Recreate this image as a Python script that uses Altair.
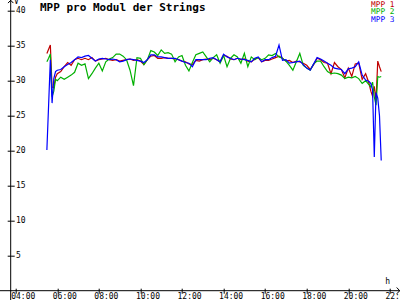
import altair as alt
import pandas as pd

# ---- data ----
times = [
    "05:30", "05:35", "05:40", "05:45", "05:50", "05:55", "06:00",
    "06:10", "06:20", "06:30", "06:40", "06:50", "07:00", "07:10", "07:20", "07:30", "07:40", "07:50",
    "08:00", "08:10", "08:20", "08:30", "08:40", "08:50", "09:00", "09:10", "09:20", "09:30", "09:40", "09:50",
    "10:00", "10:10", "10:20", "10:30", "10:40", "10:50", "11:00", "11:10", "11:20", "11:30", "11:40", "11:50",
    "12:00", "12:10", "12:20", "12:30", "12:40", "12:50", "13:00", "13:10", "13:20", "13:30", "13:40", "13:50",
    "14:00", "14:10", "14:20", "14:30", "14:40", "14:50", "15:00", "15:10", "15:20", "15:30", "15:40", "15:50",
    "16:00", "16:10", "16:20", "16:30", "16:40", "16:50", "17:00", "17:10", "17:20", "17:30", "17:40", "17:50",
    "18:00", "18:10", "18:20", "18:30", "18:40", "18:50", "19:00", "19:10", "19:20", "19:30", "19:40", "19:50",
    "20:00", "20:10", "20:20", "20:30", "20:40", "20:50", "21:00",
    "21:05", "21:10", "21:15", "21:20", "21:25", "21:30", "21:35",
]

mpp1 = [
    33.9, 34.5, 35.1, 29.1, 29.0, 30.5, 31.0,
    31.3, 32.0, 32.6, 32.2, 33.0, 33.2, 33.0, 33.2, 33.0, 33.3, 32.8,
    33.0, 33.1, 33.2, 33.0, 32.9, 33.0, 32.8, 32.9, 33.0, 33.1, 32.9, 33.0,
    32.8, 32.3, 33.0, 33.5, 33.6, 33.2, 33.2, 33.3, 33.2, 33.2, 33.1, 33.0,
    32.8, 32.7, 32.4, 32.3, 32.9, 32.8, 33.0, 33.1, 33.0, 33.2, 33.0, 32.7,
    33.6, 33.5, 33.1, 33.0, 33.2, 33.0, 33.1, 32.8, 32.7, 33.1, 33.3, 32.7,
    32.9, 32.9, 33.1, 33.3, 33.5, 33.2, 32.8, 32.9, 32.6, 32.8, 32.7, 32.5,
    32.2, 31.6, 32.3, 33.2, 33.0, 32.6, 32.5, 31.0, 32.6, 32.0, 31.6, 30.4,
    31.8, 30.6, 32.4, 32.5, 30.2, 31.0, 29.6,
    28.5, 27.8, 29.2, 27.2, 32.8, 32.0, 31.3,
]

mpp2 = [
    32.7, 33.2, 33.8, 27.7, 28.5, 30.2, 30.0,
    30.5, 30.2, 30.5, 30.8, 31.2, 32.5, 32.2, 32.4, 30.3, 31.0, 31.8,
    32.5, 31.4, 32.7, 33.1, 33.3, 33.8, 33.8, 33.5, 33.0, 31.5, 29.3, 33.3,
    33.2, 32.3, 33.0, 34.3, 34.1, 33.6, 34.4, 33.9, 34.0, 33.8, 32.7, 33.4,
    33.6, 32.2, 31.4, 32.6, 33.7, 33.9, 34.1, 33.4, 32.7, 33.3, 33.7, 32.5,
    33.6, 32.0, 33.2, 33.7, 33.4, 32.5, 33.9, 32.0, 33.4, 33.0, 33.3, 33.0,
    33.2, 33.7, 33.6, 33.9, 33.4, 33.2, 32.8, 32.2, 31.5, 32.7, 33.9, 32.2,
    31.8, 31.5, 32.4, 32.8, 32.8, 32.0, 31.3, 31.0, 31.1, 31.0, 30.8, 30.3,
    30.5, 30.4, 30.6, 30.3, 29.6, 30.0, 29.4,
    29.1, 29.8, 27.7, 26.5, 30.6, 30.5, 30.6,
]

mpp3 = [
    20.1, 26.5, 33.0, 26.8, 30.3, 31.3, 31.5,
    31.6, 32.0, 32.3, 32.6, 33.0, 33.4, 33.3, 33.5, 33.6, 33.2, 32.8,
    33.1, 33.2, 33.1, 33.0, 33.1, 33.0, 32.7, 32.8, 33.0, 33.1, 33.0, 32.9,
    32.8, 32.6, 33.0, 33.7, 33.7, 33.4, 33.4, 33.3, 33.2, 33.2, 33.2, 33.0,
    32.8, 32.6, 32.5, 32.0, 33.0, 33.0, 33.0, 33.0, 33.2, 33.3, 33.0, 32.7,
    33.8, 33.4, 33.2, 33.0, 33.2, 33.1, 33.0, 32.9, 32.7, 33.2, 33.4, 32.7,
    33.0, 33.0, 33.3, 33.5, 35.1, 32.9, 33.0, 32.5, 32.6, 32.7, 32.8, 32.3,
    31.8, 31.5, 32.4, 33.3, 33.1, 32.8, 32.5, 32.2, 31.8, 31.7, 31.6, 31.0,
    31.7, 31.8, 32.0, 32.7, 30.8, 30.1, 29.9,
    29.6, 28.7, 19.1, 28.3, 27.5, 25.0, 18.6,
]

series_names = ["MPP 1", "MPP 2", "MPP 3"]
series_colors = ["#c00000", "#00b000", "#0000ff"]
y_ticks = [5, 10, 15, 20, 25, 30, 35, 40]
x_ticks = [4, 6, 8, 10, 12, 14, 16, 18, 20, 22]
chart_title = "MPP pro Modul der Strings"
y_unit = "V"
x_unit = "h"


def to_hours(s):
    h, m = s.split(":")
    return int(h) + int(m) / 60.0


rows = []
for name, vals in zip(series_names, [mpp1, mpp2, mpp3]):
    for t, v in zip(times, vals):
        rows.append({"hour": to_hours(t), "volt": v, "series": name})
df = pd.DataFrame(rows)
legend_df = pd.DataFrame({"series": series_names})

# ---- layout ----
W, H = 387.5, 280
FONT = "DejaVu Sans Mono"
xscale = alt.Scale(domain=[3.76, 22.4], nice=False, zero=False)
yscale = alt.Scale(domain=[0, 40], nice=False, zero=False)
color = alt.Color("series:N",
                  scale=alt.Scale(domain=series_names, range=series_colors),
                  legend=None)

lines = alt.Chart(df).mark_line(strokeWidth=1.2).encode(
    x=alt.X("hour:Q", scale=xscale, axis=alt.Axis(
        orient="bottom", values=x_ticks,
        labelExpr="(datum.value < 10 ? '0' : '') + datum.value + ':00'",
        domain=False, grid=False, ticks=True, tickSize=2.5, tickColor="black",
        labelFont=FONT, labelFontSize=8, labelColor="black",
        labelAlign="left", labelOffset=-5, labelBaseline="alphabetic",
        labelPadding=5.5, labelFlush=False, labelOverlap=False,
        title=None)),
    y=alt.Y("volt:Q", scale=yscale, axis=alt.Axis(
        orient="right", offset=-W, values=y_ticks,
        domain=False, grid=False, ticks=True, tickSize=3.5, tickColor="black",
        labelFont=FONT, labelFontSize=8, labelColor="black",
        labelAlign="left", labelBaseline="middle", labelPadding=1.2,
        labelFlush=False, labelOverlap=False,
        title=None)),
    color=color,
)

# invisible layer that carries the other half of each crossing tick
ticks_other = alt.Chart(df).mark_line(opacity=0).encode(
    x=alt.X("hour:Q", scale=xscale, axis=alt.Axis(
        orient="top", offset=-H, values=x_ticks, labels=False, domain=False,
        grid=False, tickSize=2.5, tickColor="black", title=None)),
    y=alt.Y("volt:Q", scale=yscale, axis=alt.Axis(
        orient="left", values=y_ticks, labels=False, domain=False,
        grid=False, tickSize=3.5, tickColor="black", title=None)),
    detail="series:N",
)

legend_text = alt.Chart(legend_df).mark_text(
    align="right", baseline="alphabetic", font=FONT, fontSize=7.8
).encode(
    x=alt.value(383.8),
    y=alt.Y("series:N", axis=None,
            scale=alt.Scale(type="point", domain=series_names, range=[-4.2, 10.9], padding=0)),
    text="series:N",
    color=color,
)

one = alt.InlineData(values=[{"k": 1}])


def label(txt, x, y, size, weight="normal"):
    return alt.Chart(one).mark_text(
        text=txt, align="left", baseline="alphabetic",
        font=FONT, fontSize=size, fontWeight=weight, color="black"
    ).encode(x=alt.value(x), y=alt.value(y))


title_text = label(chart_title, 29.3, 0.3, 11, "bold")
y_unit_text = label(y_unit, 3.3, -6.4, 8)
x_unit_text = label(x_unit, 374.6, 273.4, 8)


def seg(x1, y1, x2, y2):
    return alt.Chart(one).mark_rule(color="black", strokeWidth=1).encode(
        x=alt.value(x1), y=alt.value(y1), x2=alt.value(x2), y2=alt.value(y2))


axis_lines = [
    seg(0, -10.7, 0, 289.3),          # y axis line
    seg(-10.7, 280, 389.3, 280),      # x axis line
    seg(-2.7, -7.6, 0, -10.4),        # arrow top
    seg(2.7, -7.6, 0, -10.4),
    seg(386, 276.8, 389, 280),        # arrow right
    seg(386, 283.2, 389, 280),
]

chart = alt.layer(
    ticks_other, lines, legend_text, title_text, y_unit_text, x_unit_text, *axis_lines
).resolve_scale(
    y="independent"
).resolve_axis(
    x="independent", y="independent"
).properties(
    width=W, height=H,
    padding={"left": 10.7, "top": 10.7, "right": 1.8, "bottom": 9.3},
    autosize=alt.AutoSizeParams(type="none"),
    background="white",
).configure_view(stroke=None)

chart.save("out.html", embed_options={"renderer": "svg", "actions": False})
